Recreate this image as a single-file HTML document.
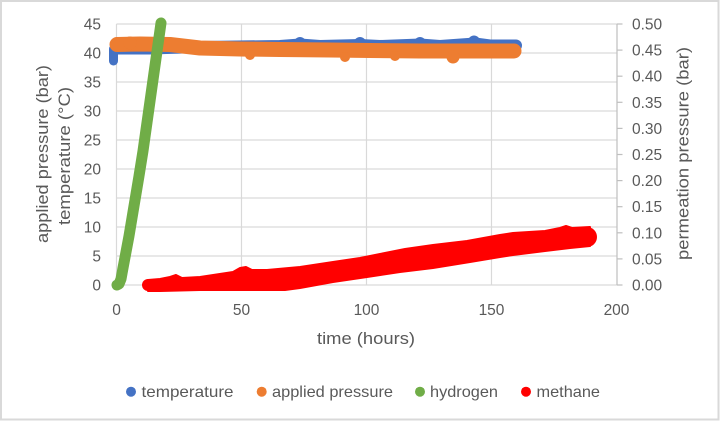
<!DOCTYPE html>
<html>
<head>
<meta charset="utf-8">
<style>
html,body{margin:0;padding:0;background:#fff;}
svg{display:block;}
text{font-family:"Liberation Sans",Arial,sans-serif;fill:#595959;}
</style>
</head>
<body>
<svg width="721" height="422" viewBox="0 0 721 422" xmlns="http://www.w3.org/2000/svg">
<rect x="0" y="0" width="721" height="422" fill="#fff"/>
<rect x="1" y="1" width="717.5" height="418.5" fill="none" stroke="#d9d9d9" stroke-width="2"/>

<!-- gridlines -->
<g stroke="#d9d9d9" stroke-width="1.2" fill="none">
<line x1="116.5" y1="24" x2="617" y2="24"/>
<line x1="116.5" y1="53" x2="617" y2="53"/>
<line x1="116.5" y1="82" x2="617" y2="82"/>
<line x1="116.5" y1="111" x2="617" y2="111"/>
<line x1="116.5" y1="140" x2="617" y2="140"/>
<line x1="116.5" y1="169" x2="617" y2="169"/>
<line x1="116.5" y1="198" x2="617" y2="198"/>
<line x1="116.5" y1="227" x2="617" y2="227"/>
<line x1="116.5" y1="256" x2="617" y2="256"/>
<line x1="116.5" y1="285" x2="617" y2="285"/>
<line x1="116.5" y1="24" x2="116.5" y2="285"/>
<line x1="241.5" y1="24" x2="241.5" y2="285"/>
<line x1="366.5" y1="24" x2="366.5" y2="285"/>
<line x1="491.5" y1="24" x2="491.5" y2="285"/>
</g>
<!-- right axis -->
<g stroke="#bfbfbf" stroke-width="1.2">
<line x1="617" y1="24" x2="617" y2="285"/>
<line x1="617" y1="24" x2="622.5" y2="24"/>
<line x1="617" y1="50.1" x2="622.5" y2="50.1"/>
<line x1="617" y1="76.2" x2="622.5" y2="76.2"/>
<line x1="617" y1="102.3" x2="622.5" y2="102.3"/>
<line x1="617" y1="128.4" x2="622.5" y2="128.4"/>
<line x1="617" y1="154.5" x2="622.5" y2="154.5"/>
<line x1="617" y1="180.6" x2="622.5" y2="180.6"/>
<line x1="617" y1="206.7" x2="622.5" y2="206.7"/>
<line x1="617" y1="232.8" x2="622.5" y2="232.8"/>
<line x1="617" y1="258.9" x2="622.5" y2="258.9"/>
<line x1="617" y1="285" x2="622.5" y2="285"/>
</g>

<!-- left tick labels -->
<g font-size="15.5" text-anchor="end">
<text x="101" y="29.5">45</text>
<text x="101" y="58.5">40</text>
<text x="101" y="87.5">35</text>
<text x="101" y="116.5">30</text>
<text x="101" y="145.5">25</text>
<text x="101" y="174.5">20</text>
<text x="101" y="203.5">15</text>
<text x="101" y="232.5">10</text>
<text x="101" y="261.5">5</text>
<text x="101" y="290.5">0</text>
</g>
<!-- right tick labels -->
<g font-size="15.5" text-anchor="start">
<text x="632" y="29.5">0.50</text>
<text x="632" y="55.6">0.45</text>
<text x="632" y="81.7">0.40</text>
<text x="632" y="107.8">0.35</text>
<text x="632" y="133.9">0.30</text>
<text x="632" y="160">0.25</text>
<text x="632" y="186.1">0.20</text>
<text x="632" y="212.2">0.15</text>
<text x="632" y="238.3">0.10</text>
<text x="632" y="264.4">0.05</text>
<text x="632" y="290.5">0.00</text>
</g>
<!-- x tick labels -->
<g font-size="15.5" text-anchor="middle">
<text x="116.5" y="315">0</text>
<text x="241.5" y="315">50</text>
<text x="366.5" y="315">100</text>
<text x="491.5" y="315">150</text>
<text x="616.5" y="315">200</text>
</g>

<!-- axis titles -->
<text x="366" y="344" font-size="17" text-anchor="middle" textLength="98" lengthAdjust="spacingAndGlyphs">time (hours)</text>
<text transform="translate(48,154) rotate(-90)" font-size="17" text-anchor="middle" textLength="178" lengthAdjust="spacingAndGlyphs">applied pressure (bar)</text>
<text transform="translate(70,156) rotate(-90)" font-size="17" text-anchor="middle" textLength="138" lengthAdjust="spacingAndGlyphs">temperature (°C)</text>
<text transform="translate(688.5,153.5) rotate(-90)" font-size="17" text-anchor="middle" textLength="213" lengthAdjust="spacingAndGlyphs">permeation pressure (bar)</text>

<!-- temperature (blue) -->
<g stroke="#4472C4" fill="none" stroke-linecap="round" stroke-linejoin="round">
<line x1="113.5" y1="49" x2="113.5" y2="61" stroke-width="9"/>
<polyline stroke-width="12" points="116,48.5 150,48.5 200,47 280,46 300,44.5 320,46 360,45 380,46 420,44.5 440,46 475,43.5 490,45.5 516,45.5"/>
</g>
<g fill="#4472C4">
<circle cx="300" cy="43" r="6"/>
<circle cx="360" cy="43" r="6"/>
<circle cx="420" cy="43" r="6"/>
<circle cx="474" cy="41.5" r="6"/>
</g>

<!-- applied pressure (orange) -->
<g stroke="#ED7D31" fill="none" stroke-linecap="round" stroke-linejoin="round">
<polyline stroke-width="15" points="117,44.5 140,44 170,44.5 200,48 240,49 280,49.5 330,50 370,50.5 420,51 470,51 514,51"/>
</g>
<g fill="#ED7D31">
<circle cx="453" cy="57" r="6.5"/>
<circle cx="160" cy="43" r="6.5"/>
<circle cx="130" cy="43" r="6.5"/>
<circle cx="345" cy="57" r="5"/>
<circle cx="250" cy="55" r="5"/>
<circle cx="395" cy="56" r="5"/>
</g>

<!-- hydrogen (green) -->
<polyline fill="none" stroke="#70AD47" stroke-width="11" stroke-linecap="round" stroke-linejoin="round" points="117,285 119,284 121,279 123,268 126,252 129,236 132,218 135,200 139,176 143,151 152,87 161,23"/>

<!-- methane (red) -->
<polygon fill="#FF0000" stroke="#FF0000" stroke-width="2" stroke-linejoin="round" points="
148,280 160,279 170,277 176,275 182,278 200,277 233,272 240,268 246,267 252,270 267,270 300,267 333,262 360,258 380,254 405,249 433,245 467,241 500,235 513,233 545,231 560,228 566,226 572,228 590,227
590,246 570,248 545,251 513,255 500,257 470,262 433,268 400,272 367,277 333,282 300,288 285,290 200,290 160,291 148,291"/>
<g fill="#FF0000">
<circle cx="148" cy="285" r="6"/>
<circle cx="587" cy="237" r="10"/>
<circle cx="243" cy="273" r="5.5"/>
<circle cx="172" cy="282" r="5"/>
</g>

<!-- legend -->
<g>
<circle cx="131" cy="391.7" r="5" fill="#4472C4"/>
<text x="141.5" y="397" font-size="16" textLength="92" lengthAdjust="spacingAndGlyphs">temperature</text>
<circle cx="261.7" cy="391.7" r="5" fill="#ED7D31"/>
<text x="272" y="397" font-size="16" textLength="121" lengthAdjust="spacingAndGlyphs">applied pressure</text>
<circle cx="420" cy="391.7" r="5" fill="#70AD47"/>
<text x="430" y="397" font-size="16" textLength="68" lengthAdjust="spacingAndGlyphs">hydrogen</text>
<circle cx="526" cy="391.7" r="5" fill="#FF0000"/>
<text x="536.5" y="397" font-size="16" textLength="63.5" lengthAdjust="spacingAndGlyphs">methane</text>
</g>
</svg>
</body>
</html>
